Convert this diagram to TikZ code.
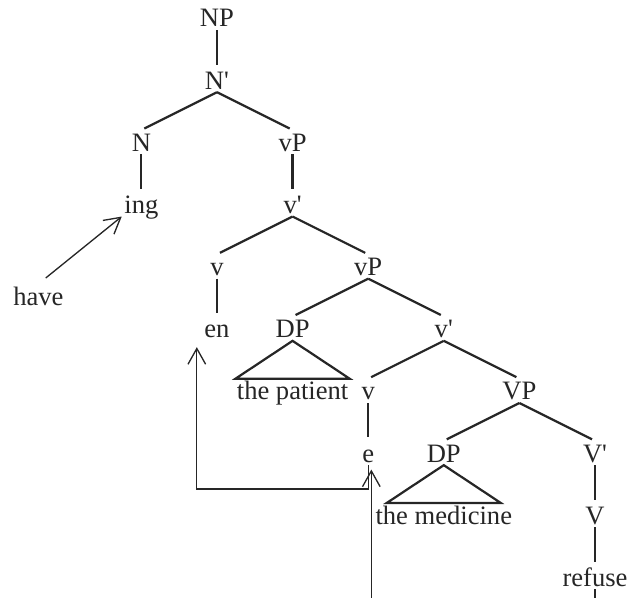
\documentclass[tikz,border=0pt]{standalone}
\usepackage{fontspec}
\setmainfont{Liberation Serif}
\usepackage{tikz}
\usetikzlibrary{arrows.meta,positioning}
\definecolor{treeink}{HTML}{262626}
\newcommand{\barmark}{\textquotesingle}
\tikzset{
  syn/.style={
    text=treeink,
    inner xsep=1pt,
    inner ysep=1.2pt,
    text height=8.2pt,
    text depth=0pt,
    font=\fontsize{12}{14}\selectfont
  },
  branch/.style={draw=treeink, line width=1pt, shorten >=1.5pt},
  roof/.style={draw=treeink, line width=1pt, line join=miter},
  movearrow/.style={-{Straight Barb[length=2.5mm,width=2.8mm]}, draw=treeink, line width=0.6pt}
}

\begin{document}
\begin{tikzpicture}[node distance=0.6cm]
  \useasboundingbox (0,0) rectangle (9.968,-9.492);
  \node[syn] (NP) at (3.444,-0.284) {NP};
  \node[syn, below=of NP] (Nbar) {N\barmark};
  \node[syn, below=of Nbar, xshift=-1.2cm] (N) {N};
  \node[syn, below=of Nbar, xshift=1.2cm] (vPa) {vP};
  \node[syn, below=of N] (ing) {ing};
  \node[syn, below=of vPa] (vbara) {v\barmark};
  \node[syn, below=of vbara, xshift=-1.2cm] (va) {v};
  \node[syn, below=of vbara, xshift=1.2cm] (vPb) {vP};
  \node[syn, below=of va] (en) {en};
  \node[syn, below=of vPb, xshift=-1.2cm] (DPa) {DP};
  \node[syn, below=of vPb, xshift=1.2cm] (vbarb) {v\barmark};
  \node[syn, below=of DPa] (patient) {the patient};
  \node[syn, below=of vbarb, xshift=-1.2cm] (vb) {v};
  \node[syn, below=of vbarb, xshift=1.2cm] (VP) {VP};
  \node[syn, below=of vb] (e) {e};
  \node[syn, below=of VP, xshift=-1.2cm] (DPb) {DP};
  \node[syn, below=of VP, xshift=1.2cm] (Vbar) {V\barmark};
  \node[syn, below=of DPb] (medicine) {the medicine};
  \node[syn, below=of Vbar] (V) {V};
  \node[syn, below=of V] (refuse) {refuse};
  \node[syn, below=1.07cm of ing, xshift=-1.635cm] (have) {have};
  \draw[branch] (NP.south) -- (Nbar.north);
  \draw[branch] (Nbar.south) -- (N.north);
  \draw[branch] (Nbar.south) -- (vPa.north);
  \draw[branch] (N.south) -- (ing.north);
  \draw[branch] (vPa.south) -- (vbara.north);
  \draw[branch] (vbara.south) -- (va.north);
  \draw[branch] (vbara.south) -- (vPb.north);
  \draw[branch] (va.south) -- (en.north);
  \draw[branch] (vPb.south) -- (DPa.north);
  \draw[branch] (vPb.south) -- (vbarb.north);
  \draw[branch] (vbarb.south) -- (vb.north);
  \draw[branch] (vbarb.south) -- (VP.north);
  \draw[branch] (vb.south) -- (e.north);
  \draw[branch] (VP.south) -- (DPb.north);
  \draw[branch] (VP.south) -- (Vbar.north);
  \draw[branch] (Vbar.south) -- (V.north);
  \draw[branch] (V.south) -- (refuse.north);
  \draw[roof] (DPa.south) -- ([xshift=-0.905cm]patient.north) -- ([xshift=0.905cm]patient.north) -- cycle;
  \draw[roof] (DPb.south) -- ([xshift=-0.905cm]medicine.north) -- ([xshift=0.905cm]medicine.north) -- cycle;
  \coordinate (reftail) at ([yshift=-0.25cm]refuse.south);
  \draw[branch, shorten >=0pt] (refuse.south) -- (reftail);
  \draw[movearrow, shorten <=0.15cm] (have.north) -- (ing.south west);
  \draw[movearrow] (e.south) -- ++(0,-0.38) -| ([xshift=-0.32cm,yshift=-0.1cm]en.south);
  \coordinate (etrace) at ([xshift=0.05cm,yshift=-2.2cm]e.south);
  \draw[movearrow] (etrace) -- ([xshift=0.05cm,yshift=-0.07cm]e.south);
\end{tikzpicture}
\end{document}
